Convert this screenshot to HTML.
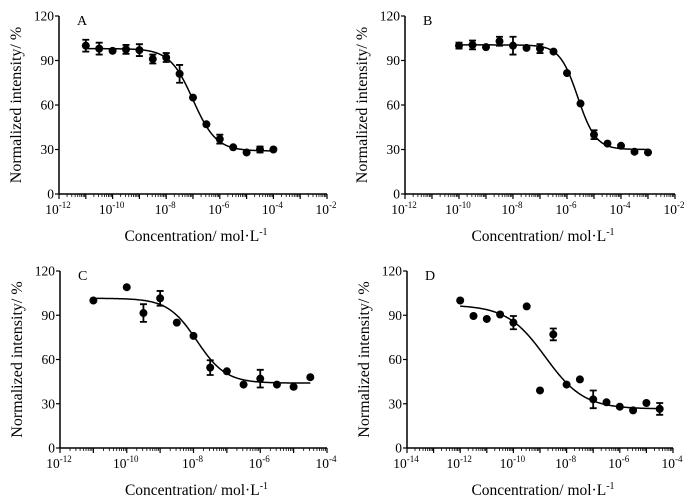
<!DOCTYPE html>
<html><head><meta charset="utf-8"><style>
html,body{margin:0;padding:0;background:#fff;}
svg{display:block;font-family:"Liberation Serif",serif;}
</style></head><body>
<svg id="fig" width="699" height="503" viewBox="0 0 699 503"></svg>
<script>
// Panel A
const aLogX=[-11,-10.5,-10,-9.5,-9,-8.5,-8,-7.5,-7,-6.5,-6,-5.5,-5,-4.5,-4];
const aY=[100,98,96.5,97.5,97,91,92,81,65,47,37,31.5,28,30,30];
const aErr=[4,4,0,3,4,3,3,6,0,0,3,0,0,2,0];
const aFit=[98,29,-7,1];
// Panel B
const bLogX=[-10,-9.5,-9,-8.5,-8,-7.5,-7,-6.5,-6,-5.5,-5,-4.5,-4,-3.5,-3];
const bY=[100,100.5,99,103,100,98.5,98,96,81.5,61,40,34,32.5,28.5,28];
const bErr=[2,3,0,3,6,0,3,0,0,0,3,0,0,0,0];
const bFit=[100.5,30,-5.6,1.3];
// Panel C
const cLogX=[-11,-10,-9.5,-9,-8.5,-8,-7.5,-7,-6.5,-6,-5.5,-5,-4.5];
const cY=[100,109,91.5,101.5,85,76,54.5,52,43,47,43,41.5,48];
const cErr=[0,0,6,5,0,0,5,0,0,6,0,0,0];
const cFit=[101.5,44,-7.9,1];
// Panel D
const dLogX=[-12,-11.5,-11,-10.5,-10,-9.5,-9,-8.5,-8,-7.5,-7,-6.5,-6,-5.5,-5,-4.5];
const dY=[100,89.5,87.5,90.5,85,96,39,77,43,46.5,33,31,28,25.5,30.5,26.5];
const dErr=[0,0,0,0,4.5,0,0,4,0,0,6,0,0,0,0,4];
const dFit=[97,26.5,-8.8,0.6];
const yTicks=[0,30,60,90,120];

const NS="http://www.w3.org/2000/svg";
const svg=document.getElementById('fig');
function mk(tag,attrs,parent){const e=document.createElementNS(NS,tag);for(const k in attrs)e.setAttribute(k,attrs[k]);(parent||svg).appendChild(e);return e;}

const panels=[
 {id:'a',label:'A',x0:59,x1:327,yTop:16,yBot:194,lmin:-12,lmax:-2,lx:aLogX,ly:aY,le:aErr,fit:aFit},
 {id:'b',label:'B',x0:405,x1:675,yTop:16,yBot:194,lmin:-12,lmax:-2,lx:bLogX,ly:bY,le:bErr,fit:bFit},
 {id:'c',label:'C',x0:60,x1:327,yTop:271,yBot:448,lmin:-12,lmax:-4,lx:cLogX,ly:cY,le:cErr,fit:cFit},
 {id:'d',label:'D',x0:407,x1:673,yTop:271,yBot:448,lmin:-14,lmax:-4,lx:dLogX,ly:dY,le:dErr,fit:dFit}
];
panels.forEach(p=>{
 const g=mk('g',{});
 
 
 const sx=v=>p.x0+(v-p.lmin)/(p.lmax-p.lmin)*(p.x1-p.x0);
 const sy=v=>p.yBot-v/120*(p.yBot-p.yTop);
 const ya=mk('line',{x1:p.x0,y1:p.yTop,x2:p.x0,y2:p.yBot,stroke:'#000','stroke-width':1.5},g);
 
 const xa=mk('line',{x1:p.x0,y1:p.yBot,x2:p.x1,y2:p.yBot,stroke:'#000','stroke-width':1.5},g);
 
 yTicks.forEach(t=>{
  mk('line',{x1:p.x0-4,y1:sy(t),x2:p.x0,y2:sy(t),stroke:'#000','stroke-width':1.2},g);
  const tl=mk('text',{x:p.x0-5,y:sy(t)+4.5,'text-anchor':'end','font-size':13.5},g);
  tl.textContent=t;
  
 });
 for(let d=p.lmin;d<=p.lmax;d++){
  mk('line',{x1:sx(d),y1:p.yBot,x2:sx(d),y2:p.yBot+5,stroke:'#000','stroke-width':1.2},g);
  if(d%2===0){
   const tl=mk('text',{x:sx(d)-1,y:p.yBot+20,'text-anchor':'middle','font-size':13.5},g);
   
   tl.appendChild(document.createTextNode('10'));
   const ts=mk('tspan',{dy:-6,'font-size':9},tl);ts.textContent=String(d);
  }
  if(d<p.lmax){for(let k=2;k<10;k++){const v=d+Math.log10(k);mk('line',{x1:sx(v),y1:p.yBot,x2:sx(v),y2:p.yBot+3,stroke:'#000','stroke-width':0.8},g);}}
 }
 const xt=mk('text',{x:(p.x0+p.x1)/2+3,y:p.yBot+47,'text-anchor':'middle','font-size':15.5},g);
 
 xt.appendChild(document.createTextNode('Concentration/ mol·L'));
 const xs=mk('tspan',{dy:-6,'font-size':10},xt);xs.textContent='-1';
 const yc=(p.yTop+p.yBot)/2;
 const yx=p.x0-38;
 const yt=mk('text',{x:yx,y:yc,'text-anchor':'middle','font-size':16,transform:`rotate(-90 ${yx} ${yc})`},g);
 
 yt.textContent='Normalized intensity/ %';
 const pl=mk('text',{x:p.x0+18,y:p.yTop+9,'font-size':14},g);
 
 pl.textContent=p.label;
 const [top,bot,ic,h]=p.fit;
 const lo=p.lx[0],hi=p.lx[p.lx.length-1];
 let dstr='';
 for(let i=0;i<=200;i++){const v=lo+(hi-lo)*i/200;const y=bot+(top-bot)/(1+Math.pow(10,(v-ic)*h));dstr+=(i?'L':'M')+sx(v).toFixed(2)+','+sy(y).toFixed(2);}
 const c=mk('path',{d:dstr,fill:'none',stroke:'#000','stroke-width':1.5},g);
 
 p.lx.forEach((v,i)=>{
  const X=sx(v),Y=sy(p.ly[i]),e=p.le[i];
  if(e>0){
   const eb=mk('path',{d:`M${X},${sy(p.ly[i]+e)}L${X},${sy(p.ly[i]-e)}M${X-3.5},${sy(p.ly[i]+e)}L${X+3.5},${sy(p.ly[i]+e)}M${X-3.5},${sy(p.ly[i]-e)}L${X+3.5},${sy(p.ly[i]-e)}`,stroke:'#000','stroke-width':1.8,fill:'none'},g);
   
  }
  const pt=mk('circle',{cx:X,cy:Y,r:4,fill:'#000'},g);
  
 });
});
</script>
</body></html>
